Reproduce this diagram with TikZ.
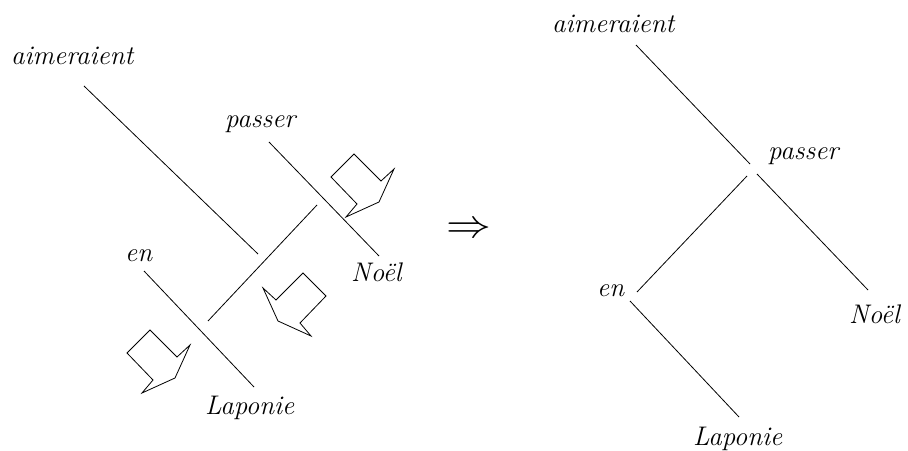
\documentclass[tikz,border=0pt]{standalone}
\usepackage{fontspec}
\usetikzlibrary{calc}
\tikzset{
  word/.style={font=\fontsize{27}{30}\selectfont\itshape, inner sep=0pt, anchor=base west},
  branch/.style={line width=0.8pt},
  movebox/.pic={\draw[line width=0.8pt, line join=miter]
    (0,0) -- (-23,23) -- (3,50) -- (-8,63) -- (25,48) -- (40,15) -- (27,27) -- cycle;}
}
\begin{document}
\begin{tikzpicture}[x=1bp, y=-1bp]
\useasboundingbox (0,0) rectangle (908,451);
% left: before the move
\node[word] (aimL) at (11,65) {aimeraient};
\node[word] (passL) at (225,128) {passer};
\node[word] (noelL) at (351,282) {Noël};
\node[word] (enL) at (125,262) {en};
\node[word] (lapL) at (205,414) {Laponie};
\coordinate (aimLa) at (84,86);   \coordinate (aimLb) at (258,254);
\coordinate (passLa) at (269,142); \coordinate (passLb) at (379,256);
\coordinate (midLa) at (208,321); \coordinate (midLb) at (317,205);
\coordinate (enLa) at (144,271);  \coordinate (enLb) at (254,387);
\draw[branch] (aimLa) -- (aimLb);
\draw[branch] (passLa) -- (passLb);
\draw[branch] (midLa) -- (midLb);
\draw[branch] (enLa) -- (enLb);
% movement arrows
\pic at (354,154) {movebox};
\pic at (150,330) {movebox};
\pic[xscale=-1] at (303,273) {movebox};
% implication
\node[xscale=4.5, yscale=4, inner sep=0pt] (impl) at (469,230) {$\Rightarrow$};
% right: after the move
\node[word] (aimR) at (552,33) {aimeraient};
\node[word] (passR) at (768,160) {passer};
\node[word] (enR) at (597,297) {en};
\node[word] (noelR) at (849,324) {Noël};
\node[word] (lapR) at (693,445) {Laponie};
\coordinate (aimRa) at (636,45);  \coordinate (aimRb) at (750,164);
\coordinate (passRa) at (747,176); \coordinate (passRb) at (637,292);
\coordinate (passRc) at (757,174); \coordinate (passRd) at (868,290);
\coordinate (enRa) at (630,301);  \coordinate (enRb) at (739,417);
\draw[branch] (aimRa) -- (aimRb);
\draw[branch] (passRa) -- (passRb);
\draw[branch] (passRc) -- (passRd);
\draw[branch] (enRa) -- (enRb);
\end{tikzpicture}
\end{document}
